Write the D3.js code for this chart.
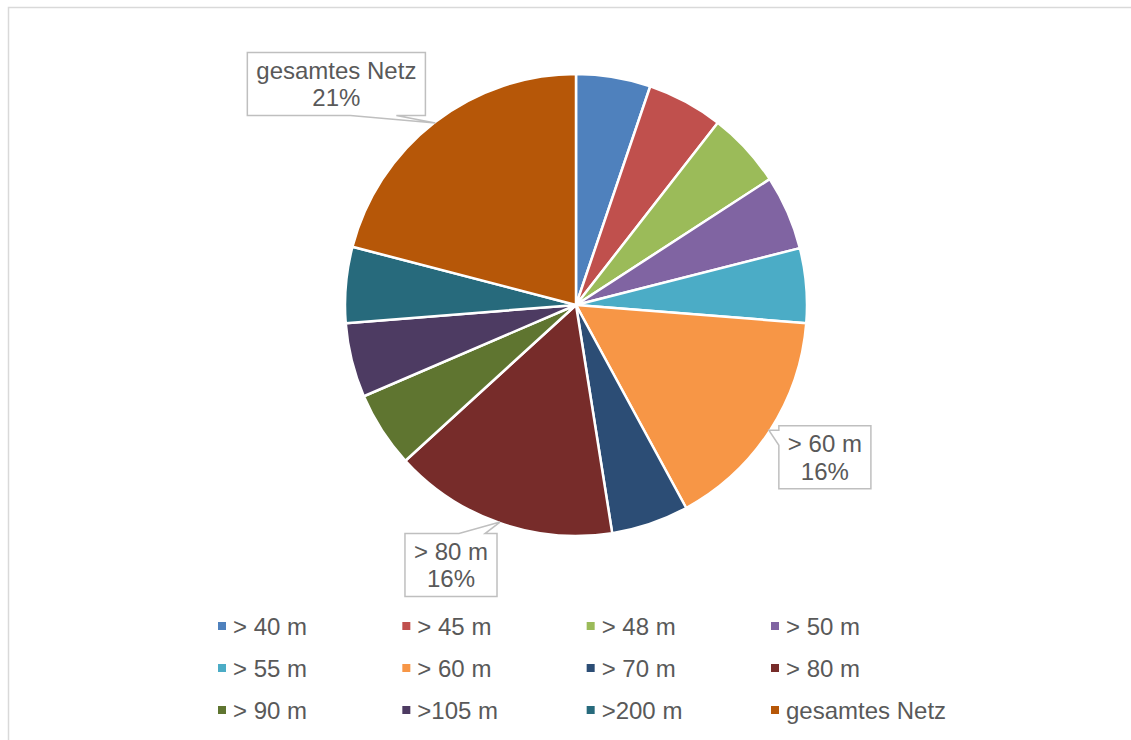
<!DOCTYPE html>
<html>
<head>
<meta charset="utf-8">
<script src="https://cdn.jsdelivr.net/npm/d3@7"></script>
<style>
  html, body { margin: 0; padding: 0; background: #fff; }
  svg { display: block; font-family: "Liberation Sans", Arial, sans-serif; }
</style>
</head>
<body>
<svg id="chart" width="1131" height="740"></svg>
<script>
// Anteile der Höhenklassen am Netz
const categories = ["> 40 m", "> 45 m", "> 48 m", "> 50 m", "> 55 m", "> 60 m",
                    "> 70 m", "> 80 m", "> 90 m", ">105 m", ">200 m", "gesamtes Netz"];
const values = [5.2, 5.3, 5.3, 5.2, 5.2, 15.8, 5.4, 15.7, 5.3, 5.2, 5.3, 20.9];
const colors = ["#4F81BD", "#C0504D", "#9BBB59", "#8064A2", "#4BACC6", "#F79646",
                "#2C4D75", "#772C2A", "#5F7530", "#4D3B62", "#276A7C", "#B65708"];
// Kategorien mit Datenbeschriftung
const labelled = ["> 60 m", "> 80 m", "gesamtes Netz"];

const W = 1131, H = 740;
const cx = 576, cy = 305, R = 231;
const textColor = "#595959";
const fontSize = 24, lineH = 27.5;

const svg = d3.select("#chart");

// Diagrammrahmen
svg.append("rect")
  .attr("x", 8.5).attr("y", 7.5)
  .attr("width", W + 20).attr("height", H + 20)
  .attr("fill", "none").attr("stroke", "#d9d9d9").attr("stroke-width", 1.5);

const color = d3.scaleOrdinal().domain(categories).range(colors);
const data = categories.map((c, i) => ({ cat: c, value: values[i] }));
const total = d3.sum(values);

const pie = d3.pie().value(d => d.value).sort(null);
const arcs = pie(data);
const arc = d3.arc().innerRadius(0).outerRadius(R);

const g = svg.append("g").attr("transform", `translate(${cx},${cy})`);
g.selectAll("path.slice")
  .data(arcs)
  .enter().append("path")
  .attr("class", "slice")
  .attr("d", arc)
  .attr("fill", d => color(d.data.cat))
  .attr("stroke", "#fff")
  .attr("stroke-width", 2.5)
  .attr("stroke-linejoin", "round");

// Beschriftungen mit Legendenrahmen (Callout)
// dx/dy: Boxmitte relativ zur Zeigerspitze; side/base: Seite und Lage des Zeigers
const calloutLayout = {
  "gesamtes Netz": { dx: -99, dy: -39, side: "bottom", base: [14, 60] },
  "> 60 m":        { dx: 56,  dy: 27,  side: "left",   base: [-27, -12] },
  "> 80 m":        { dx: -49, dy: 43,  side: "top",    base: [8, 34] }
};

const tipR = R - 1;
arcs.filter(a => labelled.includes(a.data.cat)).forEach(a => {
  const mid = (a.startAngle + a.endAngle) / 2;
  const tx = cx + tipR * Math.sin(mid);
  const ty = cy - tipR * Math.cos(mid);
  const L = calloutLayout[a.data.cat];
  const bx = tx + L.dx, by = ty + L.dy;
  const pct = Math.round(a.data.value / total * 100) + "%";

  const lg = svg.append("g");
  const path = lg.append("path");
  const txt = lg.append("text")
    .attr("text-anchor", "middle")
    .attr("font-size", fontSize)
    .attr("fill", textColor);
  txt.append("tspan").attr("x", bx).attr("y", by - lineH / 2 + 8.5).text(a.data.cat);
  txt.append("tspan").attr("x", bx).attr("y", by + lineH / 2 + 8.5).text(pct);

  const tw = txt.node().getBBox().width;
  const w = tw + 18, h = 2 * lineH + 8;
  const x0 = bx - w / 2, x1 = bx + w / 2, y0 = by - h / 2, y1 = by + h / 2;
  let d;
  if (L.side === "bottom") {
    d = `M${x0},${y0}H${x1}V${y1}H${bx + L.base[1]}L${tx},${ty}L${bx + L.base[0]},${y1}H${x0}Z`;
  } else if (L.side === "left") {
    d = `M${x0},${y0}H${x1}V${y1}H${x0}V${by + L.base[1]}L${tx},${ty}L${x0},${by + L.base[0]}Z`;
  } else {
    d = `M${x0},${y0}H${bx + L.base[0]}L${tx},${ty}L${bx + L.base[1]},${y0}H${x1}V${y1}H${x0}Z`;
  }
  path.attr("d", d).attr("fill", "#fff").attr("stroke", "#bfbfbf").attr("stroke-width", 1.5);
});

// Legende: 4 Spalten, 3 Zeilen
const legX = d3.scalePoint().domain(d3.range(4)).range([218, 771]);
const legY = d3.scalePoint().domain(d3.range(3)).range([626, 710]);
const leg = svg.append("g");
categories.forEach((c, i) => {
  const col = i % 4, row = Math.floor(i / 4);
  const x = legX(col), y = legY(row);
  leg.append("rect")
    .attr("x", x).attr("y", y - 4)
    .attr("width", 8).attr("height", 8)
    .attr("fill", color(c));
  leg.append("text")
    .attr("x", x + 15).attr("y", y + 8.5)
    .attr("font-size", fontSize)
    .attr("fill", textColor)
    .text(c);
});
</script>
</body>
</html>
